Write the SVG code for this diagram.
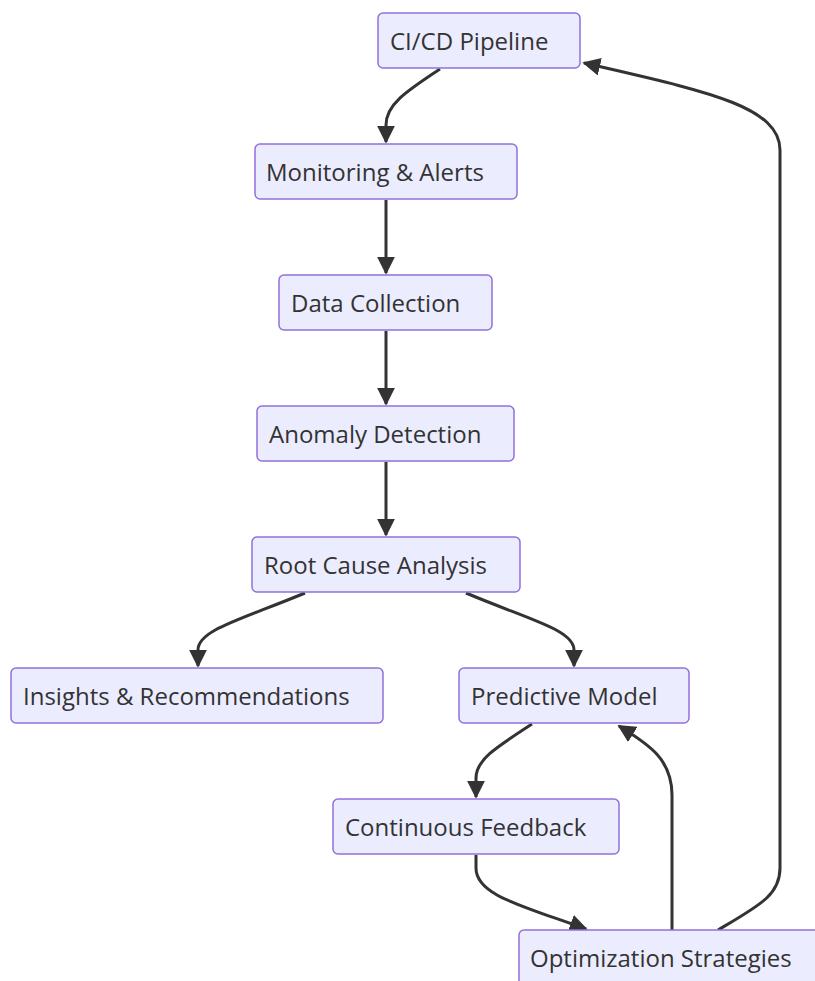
<svg xmlns="http://www.w3.org/2000/svg" width="815" height="981" viewBox="0 0 815 981">
  <style>
    .node rect { fill: #ECECFF; stroke: #9370DB; stroke-width: 1.5; }
    .node text { font-family: "Open Sans", "Noto Sans", sans-serif; font-size: 24px; fill: #333333; }
    .edge { fill: none; stroke: #333333; stroke-width: 3; }
  </style>
  <defs>
    <marker id="arrow" markerUnits="userSpaceOnUse" markerWidth="18" markerHeight="18" viewBox="0 0 10 10" refX="9" refY="5" orient="auto">
      <path d="M0,0 L10,5 L0,10 z" fill="#333333"/>
    </marker>
  </defs>
  <rect width="815" height="981" fill="#ffffff"/>

  <g id="connectors">
    <path class="edge" marker-end="url(#arrow)" d="M440,69 C405,92 386,105 386,125 L386,142"/>
    <path class="edge" marker-end="url(#arrow)" d="M386,200 L386,273"/>
    <path class="edge" marker-end="url(#arrow)" d="M386,331 L386,404"/>
    <path class="edge" marker-end="url(#arrow)" d="M386,462 L386,535"/>
    <path class="edge" marker-end="url(#arrow)" d="M305,593 C240,620 198,630 198,650 L198,666"/>
    <path class="edge" marker-end="url(#arrow)" d="M466,593 C530,620 574,630 574,650 L574,666"/>
    <path class="edge" marker-end="url(#arrow)" d="M532,724 C495,748 476,760 476,778 L476,797"/>
    <path class="edge" marker-end="url(#arrow)" d="M476,855 L476,868 C476,895 520,905 586,929"/>
    <path class="edge" marker-end="url(#arrow)" d="M672,930 L672,795 C672,760 650,745 619,726"/>
    <path class="edge" marker-end="url(#arrow)" d="M718,930 C760,905 780,895 780,868 L780,150 C780,105 700,90 584,63"/>
  </g>

  <g id="cicd" class="node">
    <rect x="378" y="13" width="202" height="55" rx="5"/>
    <text x="390" y="50">CI/CD Pipeline</text>
  </g>
  <g id="monitoring" class="node">
    <rect x="255" y="144" width="262" height="55" rx="5"/>
    <text x="266" y="181">Monitoring &amp; Alerts</text>
  </g>
  <g id="data" class="node">
    <rect x="279" y="275" width="213" height="55" rx="5"/>
    <text x="291" y="312">Data Collection</text>
  </g>
  <g id="anomaly" class="node">
    <rect x="257" y="406" width="257" height="55" rx="5"/>
    <text x="269" y="443">Anomaly Detection</text>
  </g>
  <g id="rootcause" class="node">
    <rect x="252" y="537" width="268" height="55" rx="5"/>
    <text x="264" y="574">Root Cause Analysis</text>
  </g>
  <g id="insights" class="node">
    <rect x="11" y="668" width="372" height="55" rx="5"/>
    <text x="23" y="705">Insights &amp; Recommendations</text>
  </g>
  <g id="predictive" class="node">
    <rect x="459" y="668" width="230" height="55" rx="5"/>
    <text x="471" y="705">Predictive Model</text>
  </g>
  <g id="feedback" class="node">
    <rect x="333" y="799" width="286" height="55" rx="5"/>
    <text x="345" y="836">Continuous Feedback</text>
  </g>
  <g id="optimization" class="node">
    <rect x="519" y="930" width="310" height="60" rx="5"/>
    <text x="530" y="967">Optimization Strategies</text>
  </g>
</svg>
